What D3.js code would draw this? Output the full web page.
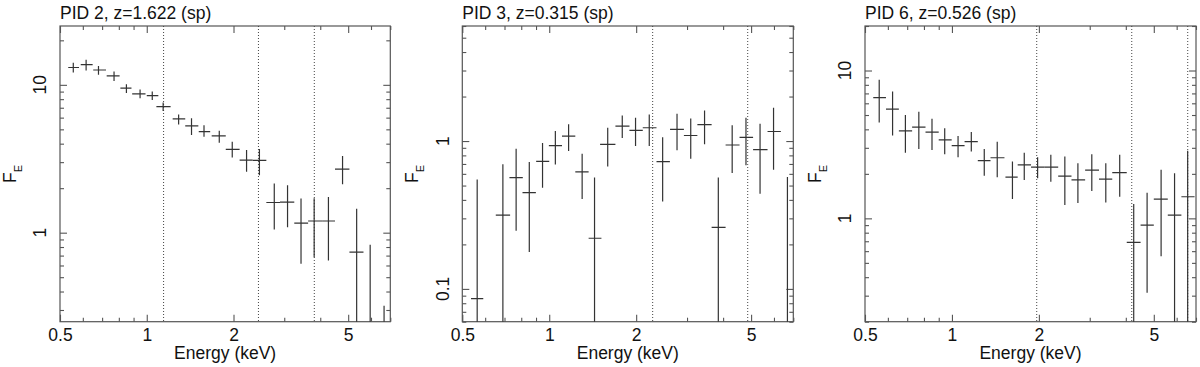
<!DOCTYPE html>
<html>
<head>
<meta charset="utf-8">
<script src="https://cdn.jsdelivr.net/npm/d3@7"></script>
<style>
  html, body { margin: 0; padding: 0; background: #fff; }
  svg { display: block; }
  text { font-family: "Liberation Sans", Arial, Helvetica, sans-serif; fill: #111; }
</style>
</head>
<body>
<svg id="chart" width="1200" height="367"></svg>
<script>
// ---------- data (rows: energy, eLo, eHi, flux, fLo, fHi) ----------
const titles = ["PID 2, z=1.622 (sp)", "PID 3, z=0.315 (sp)", "PID 6, z=0.526 (sp)"];
const xTickLabels = [0.5, 1, 2, 5];
const yTickLabels1 = [1, 10];
const yTickLabels2 = [0.1, 1];
const yTickLabels3 = [1, 10];
const yDomain1 = [0.25, 25];
const yDomain2 = [0.06, 6];
const yDomain3 = [0.2, 20];
const lines1 = [1.144, 2.441, 3.814];
const lines2 = [2.281, 4.867];
const lines3 = [1.966, 4.194, 6.553];

const pid2 = [
  [0.556,0.534,0.582,13.1,12.1,14.1],
  [0.616,0.590,0.649,13.7,12.5,14.8],
  [0.680,0.652,0.722,12.6,11.7,13.4],
  [0.770,0.726,0.805,11.5,10.6,12.3],
  [0.850,0.810,0.885,9.5,8.8,10.1],
  [0.948,0.890,0.990,8.69,8.1,9.3],
  [1.045,1.000,1.097,8.46,7.9,9.0],
  [1.140,1.080,1.210,7.12,6.65,7.6],
  [1.290,1.230,1.360,5.88,5.4,6.3],
  [1.430,1.360,1.510,5.27,4.58,5.95],
  [1.580,1.515,1.660,4.82,4.46,5.33],
  [1.785,1.680,1.880,4.51,4.06,4.9],
  [1.980,1.880,2.100,3.66,3.23,4.12],
  [2.220,2.100,2.330,3.10,2.58,3.62],
  [2.460,2.330,2.600,3.08,2.45,3.68],
  [2.770,2.600,2.900,1.60,1.05,2.15],
  [3.080,2.900,3.250,1.61,1.09,2.09],
  [3.430,3.250,3.630,1.16,0.616,1.70],
  [3.810,3.630,4.060,1.20,0.683,1.71],
  [4.270,4.060,4.500,1.20,0.649,1.74],
  [4.780,4.500,5.050,2.69,2.13,3.30],
  [5.350,5.050,5.650,0.738,0.1,1.45],
  [5.960,5.650,6.300,0.20,0.05,0.83],
  [6.660,6.300,7.050,0.15,0.05,0.32]
];
const pid3 = [
  [0.563,0.536,0.591,0.086,0.01,0.55],
  [0.691,0.653,0.732,0.315,0.01,0.696],
  [0.768,0.728,0.810,0.566,0.247,0.888],
  [0.853,0.808,0.899,0.448,0.178,0.721],
  [0.948,0.901,1.000,0.729,0.484,0.969],
  [1.050,0.997,1.107,0.93,0.693,1.17],
  [1.167,1.107,1.231,1.08,0.856,1.30],
  [1.300,1.231,1.369,0.618,0.406,0.822],
  [1.435,1.369,1.516,0.22,0.01,0.566],
  [1.594,1.500,1.695,0.95,0.674,1.23],
  [1.790,1.695,1.896,1.26,1.05,1.49],
  [1.990,1.895,2.108,1.18,0.925,1.44],
  [2.220,2.108,2.352,1.23,0.925,1.51],
  [2.470,2.352,2.617,0.726,0.39,1.06],
  [2.770,2.620,2.926,1.20,0.865,1.53],
  [3.090,2.926,3.258,1.09,0.76,1.42],
  [3.450,3.258,3.650,1.29,0.95,1.61],
  [3.850,3.650,4.080,0.261,0.01,0.566],
  [4.300,4.080,4.560,0.94,0.608,1.28],
  [4.800,4.560,5.080,1.06,0.685,1.44],
  [5.370,5.080,5.700,0.875,0.44,1.31],
  [5.980,5.700,6.340,1.16,0.64,1.68],
  [6.680,6.340,7.050,0.05,0.01,0.571]
];
const pid6 = [
  [0.560,0.534,0.591,6.56,4.45,8.66],
  [0.623,0.591,0.655,5.48,3.63,7.2],
  [0.690,0.655,0.728,3.9,2.78,5.01],
  [0.768,0.728,0.810,4.14,2.95,5.27],
  [0.853,0.810,0.900,3.83,2.9,4.71],
  [0.944,0.900,0.998,3.39,2.71,4.07],
  [1.050,0.998,1.106,3.1,2.59,3.61],
  [1.167,1.106,1.229,3.3,2.83,3.84],
  [1.294,1.229,1.360,2.46,1.94,2.95],
  [1.435,1.360,1.520,2.57,1.9,3.3],
  [1.620,1.532,1.689,1.9,1.35,2.42],
  [1.780,1.689,1.879,2.3,1.82,2.78],
  [1.980,1.879,2.088,2.22,1.87,2.59],
  [2.200,2.088,2.333,2.22,1.77,2.69],
  [2.460,2.333,2.594,1.93,1.23,2.62],
  [2.730,2.594,2.892,1.82,1.27,2.36],
  [3.050,2.892,3.230,2.12,1.53,2.71],
  [3.410,3.230,3.590,1.84,1.28,2.36],
  [3.810,3.590,4.030,2.04,1.4,2.69],
  [4.260,4.030,4.500,0.687,0.05,1.25],
  [4.740,4.500,5.000,0.9,0.314,1.49],
  [5.300,5.000,5.590,1.35,0.555,2.13],
  [5.900,5.590,6.230,1.05,0.05,2.02],
  [6.550,6.230,6.920,1.4,0.05,2.87]
];

// ---------- layout ----------
const panels = [
  {left: 60,    right: 390.3,  data: pid2, yDom: yDomain1, yLabels: yTickLabels1, lines: lines1, title: titles[0]},
  {left: 462.3, right: 793.3,  data: pid3, yDom: yDomain2, yLabels: yTickLabels2, lines: lines2, title: titles[1]},
  {left: 865,   right: 1196,   data: pid6, yDom: yDomain3, yLabels: yTickLabels3, lines: lines3, title: titles[2]}
];
const plotTop = 26, plotBottom = 321.7;
const FONT = 17.5;
const frameColor = "#555", dataColor = "#333";

const svg = d3.select("#chart");
const defs = svg.append("defs");

panels.forEach((p, i) => {
  const x = d3.scaleLog().domain([0.5, 7]).range([p.left, p.right]);
  const y = d3.scaleLog().domain(p.yDom).range([plotBottom, plotTop]);
  const g = svg.append("g");

  defs.append("clipPath").attr("id", "clip" + i)
    .append("rect").attr("x", p.left).attr("y", plotTop)
    .attr("width", p.right - p.left).attr("height", plotBottom - plotTop);

  const xAll = x.ticks();
  const xMinor = xAll.filter(v => !xTickLabels.some(m => Math.abs(m - v) < 1e-9));
  const yAll = y.ticks();
  const isMajorY = v => Math.abs(Math.log10(v) - Math.round(Math.log10(v))) < 1e-9;
  const yMajor = yAll.filter(isMajorY);
  const yMinor = yAll.filter(v => !isMajorY(v));

  const styleAxis = sel => {
    sel.select(".domain").remove();
    sel.selectAll("line").attr("stroke", frameColor).attr("stroke-width", 1.1);
  };

  // bottom
  g.append("g").attr("transform", `translate(0,${plotBottom})`)
    .call(d3.axisBottom(x).tickValues(xTickLabels).tickSizeInner(-7).tickSizeOuter(0).tickPadding(6.5)
      .tickFormat(d3.format("")))
    .call(styleAxis)
    .call(s => s.selectAll("text").attr("font-size", FONT).attr("fill", "#111")
      .attr("font-family", '"Liberation Sans", Arial, sans-serif'));
  g.append("g").attr("transform", `translate(0,${plotBottom})`)
    .call(d3.axisBottom(x).tickValues(xMinor).tickSizeInner(-4).tickSizeOuter(0).tickFormat(""))
    .call(styleAxis);
  // top
  g.append("g").attr("transform", `translate(0,${plotTop})`)
    .call(d3.axisTop(x).tickValues(xTickLabels).tickSizeInner(-7).tickSizeOuter(0).tickFormat(""))
    .call(styleAxis);
  g.append("g").attr("transform", `translate(0,${plotTop})`)
    .call(d3.axisTop(x).tickValues(xMinor).tickSizeInner(-4).tickSizeOuter(0).tickFormat(""))
    .call(styleAxis);
  // left / right
  [["axisLeft", p.left], ["axisRight", p.right]].forEach(([fn, pos]) => {
    g.append("g").attr("transform", `translate(${pos},0)`)
      .call(d3[fn](y).tickValues(yMajor).tickSizeInner(-7).tickSizeOuter(0).tickFormat(""))
      .call(styleAxis);
    g.append("g").attr("transform", `translate(${pos},0)`)
      .call(d3[fn](y).tickValues(yMinor).tickSizeInner(-4).tickSizeOuter(0).tickFormat(""))
      .call(styleAxis);
  });

  // y tick labels (rotated)
  p.yLabels.forEach(v => {
    const lx = p.left - 13.5, ly = y(v);
    g.append("text").attr("x", lx).attr("y", ly)
      .attr("transform", `rotate(-90,${lx},${ly})`)
      .attr("text-anchor", "middle").attr("font-size", FONT)
      .text(d3.format("")(v));
  });

  // frame
  g.append("rect").attr("x", p.left).attr("y", plotTop)
    .attr("width", p.right - p.left).attr("height", plotBottom - plotTop)
    .attr("fill", "none").attr("stroke", frameColor).attr("stroke-width", 1.2);

  // dotted lines
  g.append("g").selectAll("line").data(p.lines).join("line")
    .attr("x1", d => x(d)).attr("x2", d => x(d))
    .attr("y1", plotTop).attr("y2", plotBottom)
    .attr("stroke", "#444").attr("stroke-width", 1).attr("stroke-dasharray", "1,2");

  // data crosses
  const dg = g.append("g").attr("clip-path", `url(#clip${i})`)
    .attr("stroke", dataColor).attr("stroke-width", 1.2);
  dg.selectAll("line.h").data(p.data).join("line").attr("class", "h")
    .attr("x1", d => x(d[1])).attr("x2", d => x(d[2]))
    .attr("y1", d => y(d[3])).attr("y2", d => y(d[3]));
  dg.selectAll("line.v").data(p.data).join("line").attr("class", "v")
    .attr("x1", d => x(d[0])).attr("x2", d => x(d[0]))
    .attr("y1", d => y(Math.max(d[4], p.yDom[0] * 0.5))).attr("y2", d => y(d[5]));

  // title
  g.append("text").attr("x", p.left).attr("y", 18.5)
    .attr("font-size", FONT).text(p.title);

  // x axis title
  g.append("text").attr("x", (p.left + p.right) / 2).attr("y", 358.5)
    .attr("text-anchor", "middle").attr("font-size", FONT).text("Energy (keV)");

  // y axis title F_E
  const fx = p.left - 44, fy = (plotTop + plotBottom) / 2;
  const ft = g.append("text").attr("x", fx).attr("y", fy)
    .attr("transform", `rotate(-90,${fx},${fy})`)
    .attr("text-anchor", "middle").attr("font-size", FONT);
  ft.append("tspan").text("F");
  ft.append("tspan").attr("dy", 6).attr("font-size", 11).text("E");
});
</script>
</body>
</html>
